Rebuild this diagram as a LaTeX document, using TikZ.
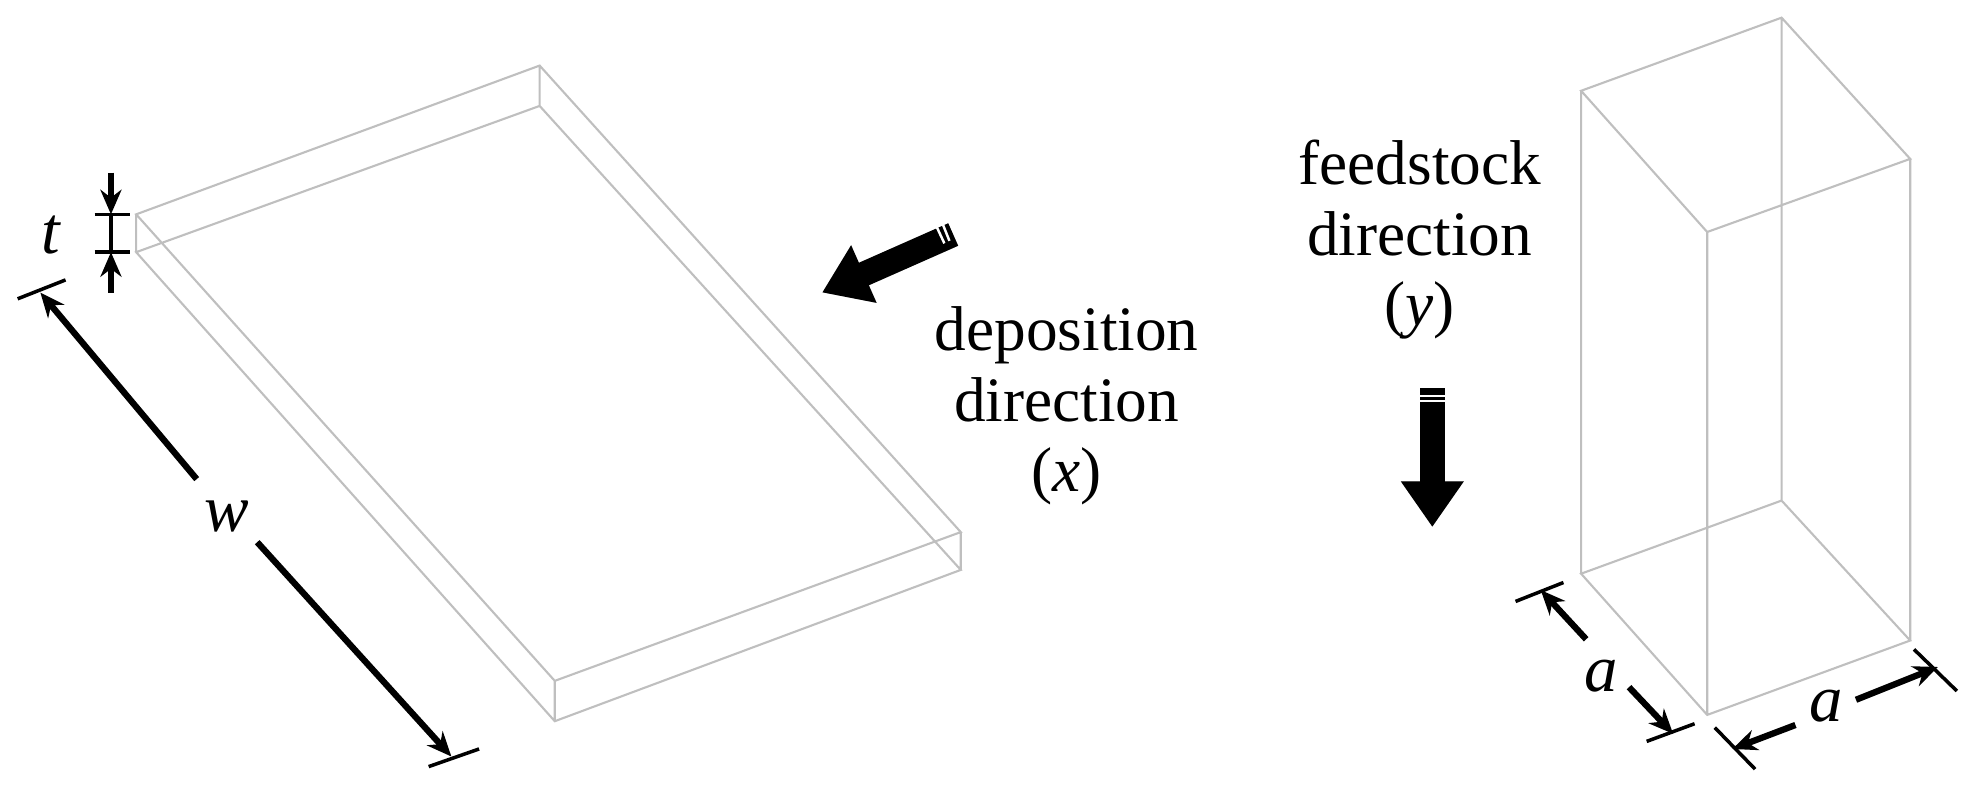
\documentclass[tikz,border=0pt]{standalone}
\usepackage{fontspec}
\setmainfont{Liberation Serif}
\usetikzlibrary{arrows.meta}
\begin{document}
\begin{tikzpicture}[x=0.012608cm,y=-0.012608cm,
  edge/.style={draw=black!25,line width=0.6pt},
  dim/.style={line width=1.8pt,-{Stealth[length=7pt,width=6pt]}},
  tick/.style={line width=1pt},
  lbl/.style={font=\fontsize{19}{21}\selectfont\itshape},
  txt/.style={font=\fontsize{18}{20}\selectfont,align=center},
  big/.style={line width=7pt,-{Triangle[length=13pt,width=17pt]}}]
\useasboundingbox (0,0) rectangle (1568,624);
% plate
\coordinate (A) at (108,170); \coordinate (B) at (428,52);
\coordinate (C) at (762,422); \coordinate (D) at (440,540);
\coordinate (A2) at (108,200); \coordinate (B2) at (428,84);
\coordinate (C2) at (762,452); \coordinate (D2) at (440,572);
\draw[edge] (A)--(B)--(C)--(D)--cycle (A2)--(B2)--(C2)--(D2)--cycle
  (A)--(A2) (B)--(B2) (C)--(C2) (D)--(D2);
% box
\coordinate (P) at (1254,72); \coordinate (Q) at (1413,14);
\coordinate (R) at (1515,126); \coordinate (S) at (1354,184);
\coordinate (P2) at (1254,455); \coordinate (Q2) at (1413,397);
\coordinate (R2) at (1515,508); \coordinate (S2) at (1354,567);
\draw[edge] (P)--(Q)--(R)--(S)--cycle (P2)--(Q2)--(R2)--(S2)--cycle
  (P)--(P2) (Q)--(Q2) (R)--(R2) (S)--(S2);
% t
\coordinate (t1) at (88,137); \coordinate (t2) at (88,170);
\coordinate (t3) at (88,232); \coordinate (t4) at (88,200);
\draw[dim] (t1)--(t2); \draw[dim] (t3)--(t4);
\draw[tick] (75,170)--(103,170) (75,200)--(103,200) (88,170)--(88,200);
\node[lbl] (tl) at (40,186) {t};
% w
\draw[tick] (14,237)--(52,222) (340,608)--(380,594);
\node[lbl] (wl) at (180,410) {w};
\coordinate (w1) at (32,232); \coordinate (w2) at (358,600);
\coordinate (wa) at (156,380); \coordinate (wb) at (204,430);
\draw[dim] (wa) -- (w1);
\draw[dim] (wb) -- (w2);
% a left
\draw[tick] (1202,477)--(1240,462) (1306,588)--(1344,574);
\node[lbl] (al) at (1270,536) {a};
\coordinate (a1) at (1222,468); \coordinate (a2) at (1327,582);
\draw[dim] (1258,507)--(a1); \draw[dim] (1292,545)--(a2);
% a right
\draw[tick] (1360,577)--(1392,610) (1518,515)--(1552,548);
\node[lbl] (ar) at (1448,560) {a};
\coordinate (b1) at (1374,594); \coordinate (b2) at (1537,529);
\draw[dim] (1424,575)--(b1); \draw[dim] (1472,555)--(b2);
% text
\node[txt] (dep) at (846,322) {deposition\\direction\\(\textit{x})};
\node[txt] (fs) at (1126,190) {feedstock\\direction\\(\textit{y})};
% big arrows
\coordinate (d1) at (756,186); \coordinate (d2) at (652,232);
\draw[big,black!40,opacity=0.5,shift={(4,6)}] (d1)--(d2);
\draw[big] (d1)--(d2);
\draw[white,line width=0.7pt] (742,178)--(749,193) (747,176)--(753,191);
\coordinate (f1) at (1136,308); \coordinate (f2) at (1136,418);
\draw[big,black!40,opacity=0.5,shift={(3,6)}] (f1)--(f2);
\draw[big] (f1)--(f2);
\draw[white,line width=0.7pt] (1126,314)--(1146,314) (1126,318)--(1146,318);
\end{tikzpicture}
\end{document}
